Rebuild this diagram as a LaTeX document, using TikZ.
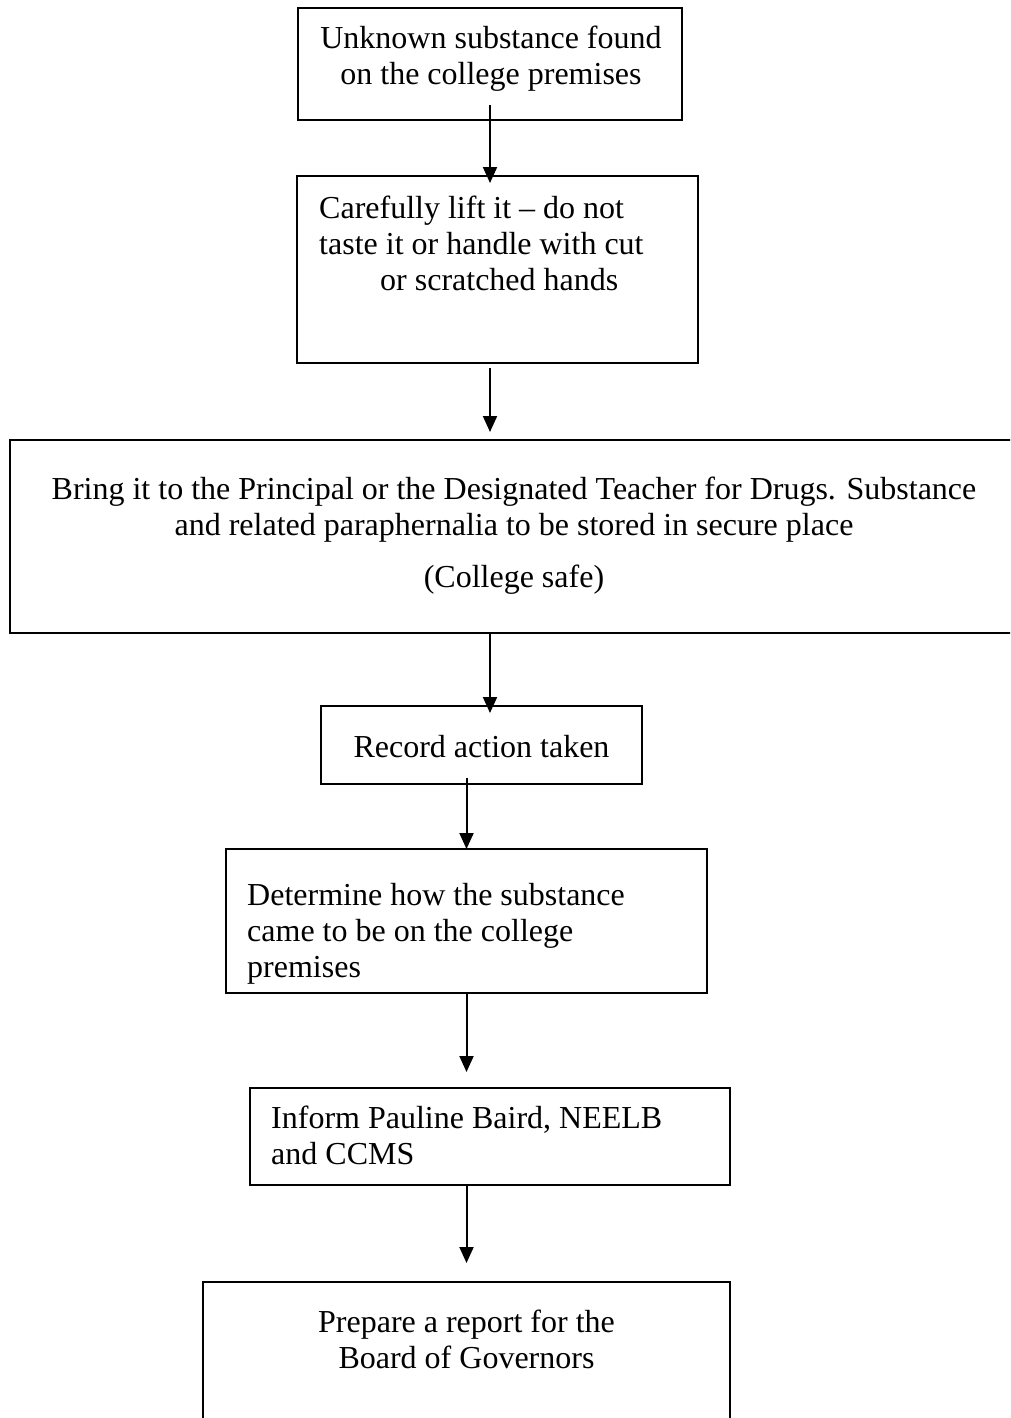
\documentclass[tikz,border=0pt]{standalone}
\usepackage{fontspec}
\setmainfont{Liberation Serif}
\usetikzlibrary{arrows.meta,positioning}

\begin{document}
\begin{tikzpicture}[x=1pt,y=-1pt,
  box/.style={draw,line width=2pt,inner sep=0pt,outer sep=0pt},
  txt/.style={inner sep=0pt,font=\fontsize{32}{36}\selectfont},
  >={Triangle[length=16pt,width=14pt]}]
  \clip (0,0) rectangle (1010,1418);
  \fill[white] (0,0) rectangle (1010,1418);
  % boxes
  \node[box,minimum width=384pt,minimum height=112pt]  (found)     at (490,64)    {};
  \node[box,minimum width=401pt,minimum height=187pt]  (lift)      at (497.5,269.5) {};
  \node[box,minimum width=1008pt,minimum height=193pt] (bring)     at (514,536.5) {};
  \node[box,minimum width=321pt,minimum height=78pt]   (record)    at (481.5,745) {};
  \node[box,minimum width=481pt,minimum height=144pt]  (determine) at (466.5,921) {};
  \node[box,minimum width=480pt,minimum height=97pt]   (inform)    at (490,1136.5) {};
  \node[box,minimum width=527pt,minimum height=170pt]  (report)    at (466.5,1367) {};
  % texts
  \node[txt,align=center,anchor=north] (foundtxt) at ([xshift=1pt,yshift=-18pt]found.north)
    {Unknown substance found\\on the college premises};
  \node[txt,align=left,anchor=north west] (lifttxt) at ([xshift=22pt,yshift=-20pt]lift.north west)
    {Carefully lift it -- do not\\taste it or handle with cut\\\hspace*{61pt}or scratched hands};
  \node[txt,align=center,anchor=north] (bringtxt) at ([yshift=-37pt]bring.north)
    {Bring it to the Principal or the Designated Teacher for Drugs. Substance\\and related paraphernalia to be stored in secure place\\[16pt](College safe)};
  \node[txt] (recordtxt) at ([yshift=-2pt]record) {Record action taken};
  \node[txt,align=left,anchor=north west] (determinetxt) at ([xshift=21pt,yshift=-34pt]determine.north west)
    {Determine how the substance\\came to be on the college\\premises};
  \node[txt,align=left,anchor=north west] (informtxt) at ([xshift=21pt,yshift=-18pt]inform.north west)
    {Inform Pauline Baird, NEELB\\and CCMS};
  \node[txt,align=center,anchor=north] (reporttxt) at ([yshift=-28pt]report.north)
    {Prepare a report for the\\Board of Governors};
  % arrows
  \draw[->,line width=2pt,shorten <=-15pt,shorten >=-7pt] (found) -- (found |- lift.north);
  \draw[->,line width=2pt,shorten <=5pt,shorten >=8pt] (lift.south -| found) -- (bring.north -| found);
  \draw[->,line width=2pt,shorten >=-7pt] (bring.south -| found) -- (record.north -| found);
  \draw[->,line width=2pt,shorten <=-6pt] (record.south -| determine) -- (determine.north);
  \draw[->,line width=2pt,shorten >=16pt] (determine) -- (determine |- inform.north);
  \draw[->,line width=2pt,shorten >=19pt] (inform.south -| determine) -- (report.north -| determine);
\end{tikzpicture}
\end{document}
